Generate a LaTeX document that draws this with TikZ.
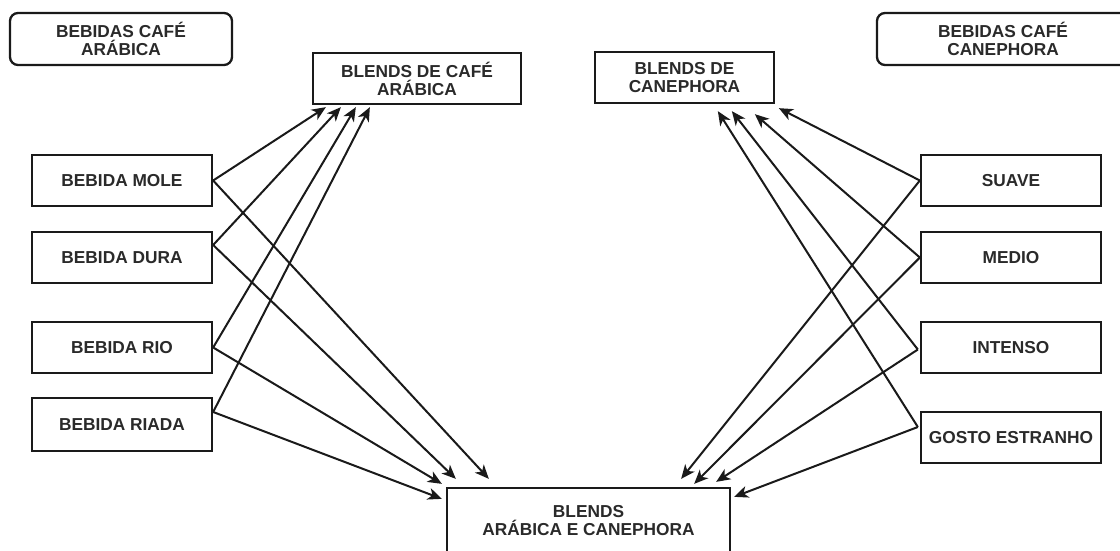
\documentclass[tikz,border=0pt]{standalone}
\usepackage{fontspec}
\setmainfont{Liberation Sans}
\usetikzlibrary{arrows.meta}
\definecolor{ink}{HTML}{1A1A1A}
\definecolor{txt}{HTML}{2A2A2A}
\begin{document}
\begin{tikzpicture}[x=1pt,y=-1pt,
  box/.style={draw=ink, line width=2.3pt, fill=white, inner sep=0pt, align=center,
    text=txt, font=\fontsize{17.3}{18}\selectfont\bfseries},
  rbox/.style={box, rounded corners=8pt},
  link/.style={draw=ink, line width=2pt, -{Stealth[length=14pt,width=12pt,inset=4pt]}}]
\clip (0,0) rectangle (1120,550);
\fill[white] (0,0) rectangle (1120,550);

\node[rbox, minimum width=222pt, minimum height=52pt] (ba) at (121,39) {BEBIDAS CAFÉ\\ARÁBICA};
\node[rbox, minimum width=252pt, minimum height=52pt] (bc) at (1003,39) {BEBIDAS CAFÉ\\CANEPHORA};

\node[box, minimum width=208pt, minimum height=51pt] (bca) at (417,78.5) {BLENDS DE CAFÉ\\ARÁBICA};
\node[box, minimum width=179pt, minimum height=51pt] (bcn) at (684.5,77.5) {BLENDS DE\\CANEPHORA};

\node[box, minimum width=180pt, minimum height=51pt] (mole) at (122,180.5) {BEBIDA MOLE};
\node[box, minimum width=180pt, minimum height=51pt] (dura) at (122,257.5) {BEBIDA DURA};
\node[box, minimum width=180pt, minimum height=51pt] (rio) at (122,347.5) {BEBIDA RIO};
\node[box, minimum width=180pt, minimum height=53pt] (riada) at (122,424.5) {BEBIDA RIADA};

\node[box, minimum width=180pt, minimum height=51pt] (suave) at (1011,180.5) {SUAVE};
\node[box, minimum width=180pt, minimum height=51pt] (medio) at (1011,257.5) {MEDIO};
\node[box, minimum width=180pt, minimum height=51pt] (intenso) at (1011,347.5) {INTENSO};
\node[box, minimum width=180pt, minimum height=51pt] (gosto) at (1011,437.5) {GOSTO ESTRANHO};

\node[box, minimum width=283pt, minimum height=66pt] (blend) at (588.5,521) {BLENDS\\ARÁBICA E CANEPHORA};

% left side to arabica blends
\draw[link] (mole.east) -- ([shift={(14,2)}]bca.south west);
\draw[link] ([shift={(0,-12.5)}]dura.east) -- ([shift={(29,2)}]bca.south west);
\draw[link] (rio.east) -- ([shift={(44,2)}]bca.south west);
\draw[link] ([shift={(0,-12.5)}]riada.east) -- ([shift={(58,2)}]bca.south west);
% left side to bottom blend
\draw[link] (mole.east) -- ([shift={(43,-8)}]blend.north west);
\draw[link] ([shift={(0,-12.5)}]dura.east) -- ([shift={(10,-8)}]blend.north west);
\draw[link] (rio.east) -- ([shift={(-4,-3)}]blend.north west);
\draw[link] ([shift={(0,-12.5)}]riada.east) -- ([shift={(-4,12)}]blend.north west);

% right side to canephora blends
\draw[link] (suave.west) -- ([shift={(185,4)}]bcn.south west);
\draw[link] (medio.west) -- ([shift={(161,10)}]bcn.south west);
\draw[link] ([shift={(-2,2)}]intenso.west) -- ([shift={(138,7)}]bcn.south west);
\draw[link] ([shift={(-2,-10.5)}]gosto.west) -- ([shift={(124,7)}]bcn.south west);
% right side to bottom blend
\draw[link] (suave.west) -- ([shift={(-50,-8)}]blend.north east);
\draw[link] (medio.west) -- ([shift={(-37,-3)}]blend.north east);
\draw[link] ([shift={(-2,2)}]intenso.west) -- ([shift={(-15,-5)}]blend.north east);
\draw[link] ([shift={(-2,-10.5)}]gosto.west) -- ([shift={(3,10)}]blend.north east);
\end{tikzpicture}
\end{document}
